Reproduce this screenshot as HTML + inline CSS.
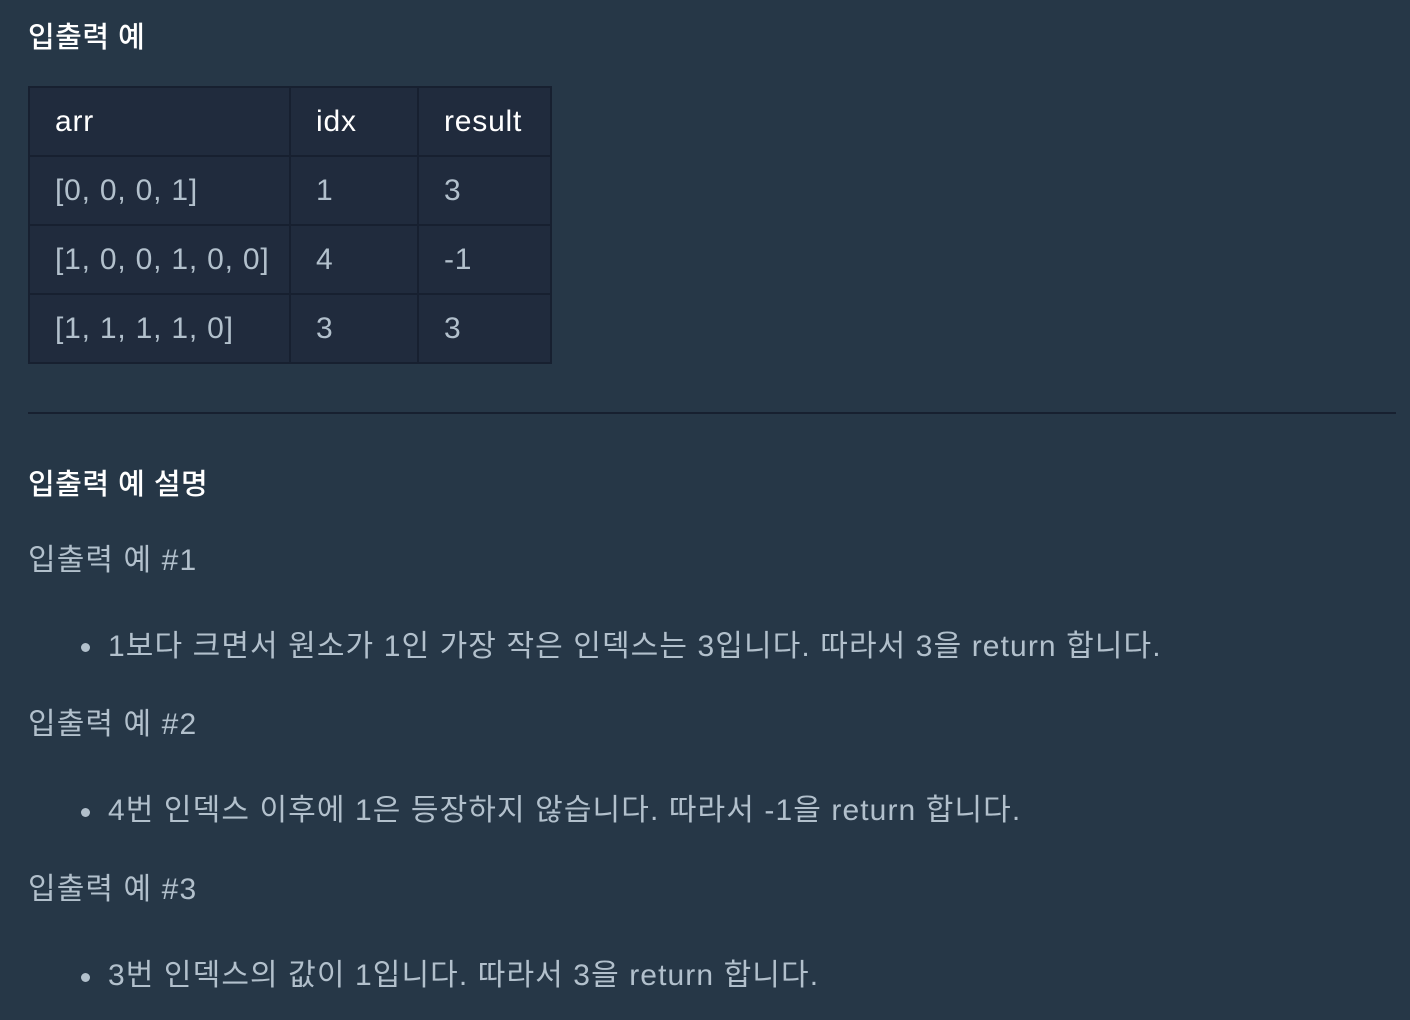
<!DOCTYPE html>
<html><head><meta charset="utf-8"><style>
body{margin:0;width:1410px;height:1020px;background:#263747;overflow:hidden;font-family:"Liberation Sans","Noto Sans CJK KR",sans-serif;position:relative}
.t{position:absolute;white-space:nowrap;line-height:40px;height:40px}
h3{margin:0;color:#fff;font-size:29px;font-weight:500;letter-spacing:0.5px}
.p{color:#b2c0cc;font-size:30px;letter-spacing:1.1px}
table{position:absolute;left:28px;top:86px;border-collapse:collapse;background:#202b3d}
td,th{border:2px solid #172030;height:67px;padding:0 0 0 25px;text-align:left;font-size:30px;font-weight:normal;color:#b2c0cc;letter-spacing:0.8px}
th{color:#fff}
.hr{position:absolute;left:28px;top:412px;width:1368px;height:2px;background:#172030}
.dot{position:absolute;width:9px;height:9px;border-radius:50%;background:#b2c0cc}
</style></head><body>
<div class="t" style="left:28px;top:18px"><h3>입출력 예</h3></div>
<table>
<tr><th style="width:234px">arr</th><th style="width:101px">idx</th><th style="width:106px">result</th></tr>
<tr><td>[0, 0, 0, 1]</td><td>1</td><td>3</td></tr>
<tr><td>[1, 0, 0, 1, 0, 0]</td><td>4</td><td>-1</td></tr>
<tr><td>[1, 1, 1, 1, 0]</td><td>3</td><td>3</td></tr>
</table>
<div class="hr"></div>
<div class="t" style="left:28px;top:465px"><h3>입출력 예 설명</h3></div>
<div class="t p" style="left:28px;top:541px">입출력 예 #1</div>
<div class="dot" style="left:81px;top:643px"></div>
<div class="t p" style="left:108px;top:627px">1보다 크면서 원소가 1인 가장 작은 인덱스는 3입니다. 따라서 3을 return 합니다.</div>
<div class="t p" style="left:28px;top:705px">입출력 예 #2</div>
<div class="dot" style="left:81px;top:808px"></div>
<div class="t p" style="left:108px;top:791px">4번 인덱스 이후에 1은 등장하지 않습니다. 따라서 -1을 return 합니다.</div>
<div class="t p" style="left:28px;top:870px">입출력 예 #3</div>
<div class="dot" style="left:81px;top:973px"></div>
<div class="t p" style="left:108px;top:956px">3번 인덱스의 값이 1입니다. 따라서 3을 return 합니다.</div>
</body></html>
